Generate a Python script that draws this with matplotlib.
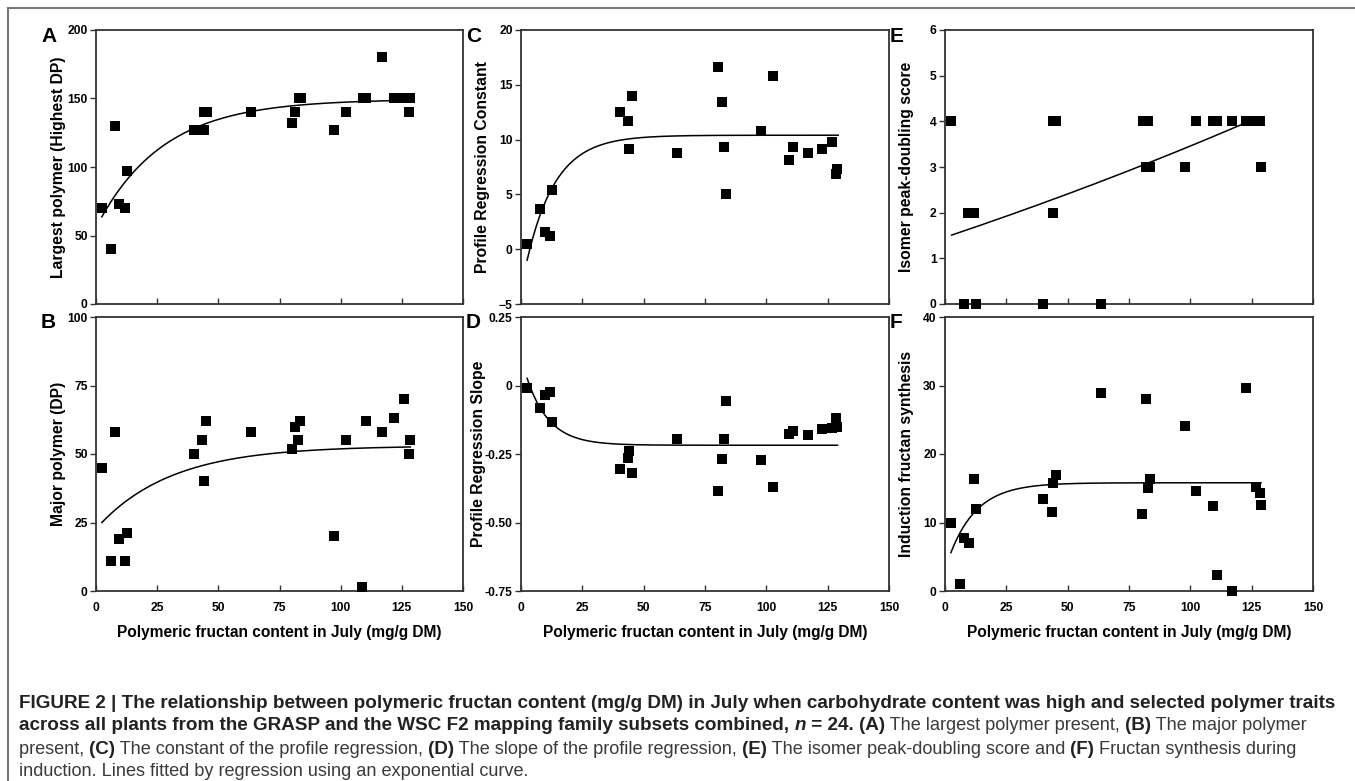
import numpy as np
import matplotlib
matplotlib.use("Agg")
import matplotlib.pyplot as plt
from matplotlib.lines import Line2D

plt.rcParams['font.family'] = ['Liberation Sans', 'DejaVu Sans']

# Data (x = polymeric fructan content in July, mg/g DM)
xA = [2.4, 6.2, 7.9, 9.6, 11.8, 12.6, 40, 44, 44, 45.3, 63.4, 80.1, 81.4, 82.8,
      83.6, 97.4, 102, 109, 110.4, 116.7, 122, 126, 128, 128.5]
yA = [70, 40, 130, 73, 70, 97, 127, 140, 127, 140, 140, 132, 140, 150,
      150, 127, 140, 150, 150, 180, 150, 150, 140, 150]

xB = [2.6, 6.2, 7.9, 9.6, 11.8, 12.6, 40, 43.4, 44, 45, 63.4, 80.1, 81.4, 82.4,
      83.3, 97.4, 102, 108.8, 110.3, 116.7, 122, 126, 128.5, 128]
yB = [45, 11, 58, 19, 11, 21, 50, 55, 40, 62, 58, 52, 60, 55,
      62, 20, 55, 1.5, 62, 58, 63, 70, 55, 50]

xC = [2.5, 7.8, 9.7, 11.7, 12.7, 40.2, 43.7, 44.1, 45.2, 63.6, 80.4, 81.9,
      82.7, 83.7, 98, 102.6, 109.3, 110.8, 117, 122.6, 126.8, 128.9, 128.6]
yC = [0.46, 3.7, 1.55, 1.16, 5.37, 12.5, 11.7, 9.15, 14.0, 8.8, 16.6, 13.4,
      9.36, 5.06, 10.76, 15.8, 8.17, 9.3, 8.8, 9.15, 9.8, 7.35, 6.9]

xD = [2.5, 7.8, 9.7, 11.7, 12.7, 40.2, 43.7, 44.1, 45.2, 63.6, 80.4, 81.9,
      82.7, 83.7, 98, 102.6, 109.3, 110.8, 117, 122.6, 126.8, 128.9, 128.6]
yD = [-0.008, -0.081, -0.036, -0.025, -0.133, -0.303, -0.265, -0.239, -0.318,
      -0.194, -0.386, -0.267, -0.196, -0.055, -0.273, -0.37, -0.176, -0.167,
      -0.179, -0.157, -0.156, -0.151, -0.118]

xE = [2.4, 7.9, 9.5, 11.8, 12.7, 40.1, 44.1, 44.2, 45.3, 63.5, 80.7, 82.6,
      81.9, 83.7, 97.7, 102.4, 109.1, 110.9, 117, 122.6, 126.7, 128.6, 128.8]
yE = [4, 0, 2, 2, 0, 0, 4, 2, 4, 0, 4, 4, 3, 3, 3, 4, 4, 4, 4, 4, 4, 4, 3]

xF = [2.4, 6.3, 7.9, 9.7, 12, 12.8, 40.1, 43.7, 44.1, 45.2, 63.5, 80.4, 81.8,
      82.6, 83.5, 97.7, 102.4, 109.1, 110.7, 117, 122.6, 126.8, 128.3, 128.8]
yF = [9.98, 1.07, 7.7, 7.0, 16.4, 11.9, 13.4, 11.5, 15.7, 17.0, 28.9, 11.2,
      28.0, 15.0, 16.35, 24.1, 14.6, 12.4, 2.3, 0, 29.7, 15.2, 14.3, 12.6]

# exponential fits y = a + b*exp(c*x), with the x range of each line
fitA = (149.5, -93.8, -0.037, 2.4, 128.5)
fitB = (53.0, -30.3, -0.033, 2.4, 128.5)
fitC = (10.4, -14.1, -0.085, 2.5, 129.3)
fitD = (-0.218, 0.321, -0.11, 2.5, 129.0)
fitE = (-7.57, 9.03, 0.002, 2.7, 124.5)
fitF = (15.8, -12.66, -0.09, 2.4, 128.8)

ylabels = ['Largest polymer (Highest DP)', 'Major polymer (DP)',
           'Profile Regression Constant', 'Profile Regression Slope',
           'Isomer peak-doubling score', 'Induction fructan synthesis']
letters = ['A', 'B', 'C', 'D', 'E', 'F']
yticksA = [0, 50, 100, 150, 200]
yticksB = [0, 25, 50, 75, 100]
yticksC = [-5, 0, 5, 10, 15, 20]
yticksD = [-0.75, -0.5, -0.25, 0, 0.25]
yticklabD = ['-0.75', '-0.50', '-0.25', '0', '0.25']
yticksE = [0, 1, 2, 3, 4, 5, 6]
yticksF = [0, 10, 20, 30, 40]
xticks = [0, 25, 50, 75, 100, 125, 150]

W, H = 1355, 781
fig = plt.figure(figsize=(W / 100, H / 100), dpi=100)


def px_axes(l, t, r, b):
    return fig.add_axes([l / W, 1 - b / H, (r - l) / W, (b - t) / H])


# data, fit, ticks, tick labels, box (left, top, right, bottom px), bottom row, ylabel offset px
panels = [
    (xA, yA, fitA, yticksA, None, (96, 30, 463, 304), False, 38),
    (xB, yB, fitB, yticksB, None, (96, 317, 463, 591), True, 38),
    (xC, yC, fitC, yticksC, None, (521, 30, 889, 304), False, 39),
    (xD, yD, fitD, yticksD, yticklabD, (521, 317, 889, 591), True, 42),
    (xE, yE, fitE, yticksE, None, (945, 30, 1313, 304), False, 38),
    (xF, yF, fitF, yticksF, None, (945, 317, 1313, 591), True, 38),
]

for i, (x, y, fit, yt, ytl, box, bottom, yoff) in enumerate(panels):
    ax = px_axes(*box)
    ax.scatter(x, y, marker='s', s=54, color='black', zorder=3, clip_on=False,
               linewidths=0)
    a, b, c, x0, x1 = fit
    xs = np.linspace(x0, x1, 200)
    ax.plot(xs, a + b * np.exp(c * xs), color='black', lw=1.1)
    ax.set_xlim(0, 150)
    ax.set_ylim(yt[0], yt[-1])
    ax.set_yticks(yt)
    if ytl:
        ax.set_yticklabels(ytl)
    ax.set_xticks(xticks)
    for s in ax.spines.values():
        s.set_linewidth(1.3)
        s.set_color('#333333')
    ax.tick_params(axis='y', direction='out', length=4, width=1, pad=2,
                   labelsize=8.7, color='#333333')
    ax.tick_params(axis='x', direction='in', length=4, width=1, pad=8,
                   labelsize=8.7, color='#333333')
    for lab in ax.get_xticklabels() + ax.get_yticklabels():
        lab.set_fontweight('bold')
    if bottom:
        ax.set_xlabel('Polymeric fructan content in July (mg/g DM)',
                      fontsize=11.2, fontweight='bold', labelpad=8)
    else:
        ax.tick_params(axis='x', labelbottom=False)
    ax.set_ylabel(ylabels[i], fontsize=11.3, fontweight='bold', va='center')
    ax.yaxis.set_label_coords(-yoff / (box[2] - box[0]), 0.5)
    fig.text((box[0] - 55) / W, 1 - (box[1] + 6) / H, letters[i],
             fontsize=15, fontweight='bold', ha='left', va='center')

# outer frame
fig.add_artist(Line2D([8 / W, 1], [1 - 8 / H, 1 - 8 / H], color='#777777', lw=1.5))
fig.add_artist(Line2D([8 / W, 8 / W], [1 - 8 / H, 0], color='#777777', lw=1.5))

# caption, drawn piece by piece
cap_lines = [
    [("FIGURE 2 | The relationship between polymeric fructan content (mg/g DM) in July when carbohydrate content was high and selected polymer traits", 'bold', 'normal')],
    [("across all plants from the GRASP and the WSC F2 mapping family subsets combined, ", 'bold', 'normal'),
     ("n", 'bold', 'italic'), (" = 24. ", 'bold', 'normal'), ("(A)", 'bold', 'normal'),
     (" The largest polymer present, ", 'normal', 'normal'), ("(B)", 'bold', 'normal'),
     (" The major polymer", 'normal', 'normal')],
    [("present, ", 'normal', 'normal'), ("(C)", 'bold', 'normal'),
     (" The constant of the profile regression, ", 'normal', 'normal'), ("(D)", 'bold', 'normal'),
     (" The slope of the profile regression, ", 'normal', 'normal'), ("(E)", 'bold', 'normal'),
     (" The isomer peak-doubling score and ", 'normal', 'normal'), ("(F)", 'bold', 'normal'),
     (" Fructan synthesis during", 'normal', 'normal')],
    [("induction. Lines fitted by regression using an exponential curve.", 'normal', 'normal')],
]
renderer = fig.canvas.get_renderer()
cap_y = [703, 726, 749, 771]
for line, yy in zip(cap_lines, cap_y):
    xx = 19
    for txt, wt, st in line:
        t = fig.text(xx / W, 1 - yy / H, txt,
                     fontsize=13.6 if wt == 'bold' else 13.1,
                     fontweight=wt, fontstyle=st, ha='left', va='center',
                     color='#222222' if wt == 'bold' else '#3a3a3a')
        bb = t.get_window_extent(renderer)
        xx += bb.width

fig.savefig('out.png', dpi=100)
